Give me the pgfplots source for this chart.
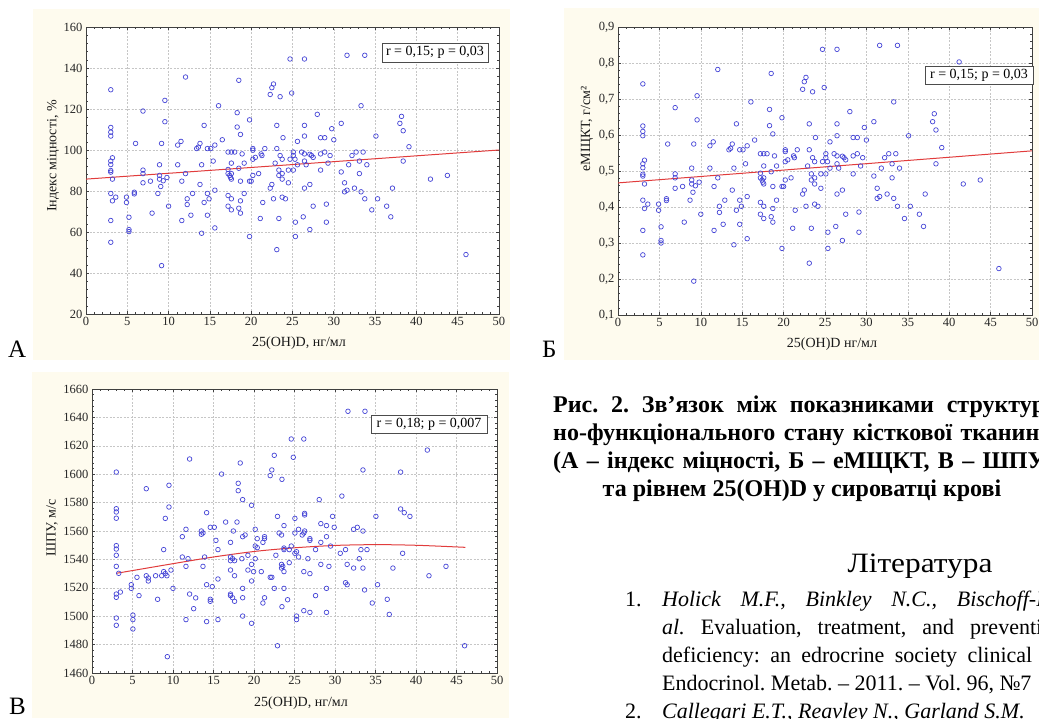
\documentclass[border=0pt]{standalone}
\usepackage{fontspec}
\setmainfont{Liberation Serif}
\usepackage{pgfplots}
\pgfplotsset{compat=1.18}

\definecolor{cream}{RGB}{254,251,238}
\definecolor{dotblue}{RGB}{70,70,215}
\definecolor{fitred}{RGB}{225,60,60}

\pgfplotsset{
  panel/.style={
    scale only axis, anchor=south west,
    xmin=0, xmax=50, xtick={0,5,...,50},
    minor tick num=4, tick align=inside,
    major tick length=3pt, minor tick length=2pt,
    grid=major,
    major grid style={gray!45, dash pattern=on 2pt off 1.5pt, line width=0.5pt},
    axis line style={draw=black!75, line width=0.8pt},
    every tick/.style={black!75, line width=0.6pt},
    axis background/.style={fill=white},
    ticklabel style={font=\fontsize{12.5}{12.5}\selectfont, text=black!85},
    /pgf/number format/assume math mode=true,
    /pgf/number format/1000 sep={},
  },
  dots/.style={only marks, mark=o, mark size=2.3pt,
    mark options={draw=dotblue, line width=0.7pt}},
  fit/.style={fitred, line width=1pt, no marks},
}

\begin{document}
\frenchspacing
\begin{tikzpicture}
\useasboundingbox (0,0) rectangle (1039pt,-718pt);
\clip (0,0) rectangle (1039pt,-718pt);

% panel backgrounds
\fill[cream] (33pt,-9pt) rectangle (510pt,-360pt);
\fill[cream] (564pt,-8pt) rectangle (1039pt,-360pt);
\fill[cream] (32pt,-372pt) rectangle (509pt,-718pt);

% ---------- А: індекс міцності ----------
\begin{axis}[panel, at={(86pt,-314pt)}, width=413pt, height=287pt,
  ymin=20, ymax=160, ytick={20,40,...,160}]
\addplot[dots] table {
x y
3 129.4
3 111
3 108.7
3 106.8
3.2 96.2
3 94.6
3 92.9
3 90
3 89.2
3.2 85.8
3 78.8
3.6 77
3.2 75.2
3 65.6
3 55
4.9 77
4.9 74.4
5.2 67.2
5.2 61.2
5.2 60.2
5.85 79.4
5.85 78.6
6 103.2
6.9 119
6.9 90.2
6.9 88.5
6.9 84
7.8 84.8
8 69.2
8.7 78.8
8.9 92.8
8.9 87.6
8.9 85.8
9.05 82.2
9.15 103.2
9.15 43.6
9.35 85
9.55 124.2
9.55 113.8
9.8 86.6
10 72.6
11.1 102.4
11.1 92.8
11.5 104.2
11.6 84.8
11.6 65.6
12.05 135.6
12.05 88.5
12.25 76.2
12.25 73.4
12.7 68.2
12.9 78.8
13.4 100.7
13.6 101.4
13.8 103.2
13.8 83.2
14 92.8
14 59.4
14.3 112
14.3 74.4
14.7 100.7
14.7 78.8
14.7 68.2
14.9 76.2
15.1 100.7
15.4 94.6
15.6 102.4
15.6 80.4
15.6 62
16.05 121.6
16.5 105
17.2 99
17.2 90.5
17.2 88.5
17.2 77.8
17.2 72.6
17.4 87.6
17.5 86.6
17.6 93.6
17.6 88.5
17.6 85.8
17.6 76.2
17.6 70.8
17.6 99
18 99
18.3 118.2
18.3 111.2
18.5 134
18.5 91.1
18.5 71.6
18.7 107.6
18.7 84.8
18.7 75.2
18.7 69.2
18.9 98.1
19.15 93.6
19.15 78.8
19.8 84.8
19.8 57.8
19.8 114.7
20 84.8
20.2 100.7
20.2 99.9
20.2 95.5
20.2 87.6
20.5 96.4
20.9 88.5
21.1 66.6
21.2 98.1
21.3 97.3
21.4 74.4
21.65 100.7
22.3 127.1
22.3 81.4
22.5 130.4
22.5 83.2
22.7 132.2
22.7 76.2
22.9 93.6
23.1 112
23.1 100.7
23.1 51.4
23.35 90.2
23.35 87.6
23.35 66.6
23.5 126
23.5 97.3
23.75 95.5
23.75 88.5
23.75 85.8
23.75 77
23.85 106
24.15 76.2
24.5 90.2
24.5 84
24.7 144.4
24.7 95.5
24.9 127.8
25.1 99
25.1 97.3
25.1 90.2
25.3 95.5
25.35 64.8
25.35 57.8
25.6 104.2
25.6 92.8
26.1 99
26.3 67.4
26.45 144.4
26.45 112
26.45 106.8
26.45 98.1
26.45 94.6
26.45 81.4
26.65 92.8
27.1 97.9
27.1 83.2
27.1 61.2
27.3 97.3
27.5 96.4
27.5 72.6
28 117.4
28.4 106
28.4 98.1
28.4 90.2
28.9 106
28.9 99
29.1 73.6
29.1 64.8
29.3 93.6
29.55 97.3
29.75 110.4
30 105
30.9 113
30.9 89.3
31.3 84
31.3 79.6
31.6 146.2
31.6 80.4
31.8 92.8
32.2 97.3
32.5 81.4
32.7 99
33.1 94.6
33.1 88.5
33.3 121.6
33.3 79.6
33.55 99
33.75 146.2
33.75 76.2
34 92.8
34.6 70.8
35.1 106.8
35.3 76.2
36.4 72.6
36.9 67.4
37.1 81.4
38 113
38.2 116.4
38.4 109.4
38.4 94.6
39.1 101.6
41.7 85.8
43.75 87.6
46 49
};
\addplot[fit] coordinates {(0,85.8) (50,100)};
\end{axis}

% ---------- Б: еМЩКТ ----------
\begin{axis}[panel, at={(618pt,-315pt)}, width=414pt, height=288pt,
  ymin=0.1, ymax=0.9, ytick={0.1,0.2,0.3,0.4,0.5,0.6,0.7,0.8,0.9},
  yticklabel style={/pgf/number format/fixed, /pgf/number format/precision=1,
    /pgf/number format/use comma}]
\addplot[dots] table {
x y
3 0.742
3 0.625
3 0.610
3 0.598
3.2 0.530
3 0.520
3 0.509
3 0.491
3 0.486
3.2 0.464
3 0.419
3.6 0.408
3.2 0.396
3 0.335
3 0.267
4.9 0.408
4.9 0.391
5.2 0.345
5.2 0.307
5.2 0.300
5.85 0.423
5.85 0.418
6 0.575
6.9 0.676
6.9 0.492
6.9 0.481
6.9 0.452
7.8 0.457
8 0.358
8.7 0.419
8.9 0.508
8.9 0.475
8.9 0.464
9.05 0.441
9.15 0.575
9.15 0.194
9.35 0.459
9.55 0.709
9.55 0.642
9.8 0.469
10 0.380
11.1 0.570
11.1 0.508
11.5 0.581
11.6 0.457
11.6 0.335
12.05 0.782
12.05 0.481
12.25 0.402
12.25 0.385
12.7 0.352
12.9 0.419
13.4 0.559
13.6 0.563
13.8 0.575
13.8 0.447
14 0.508
14 0.295
14.3 0.631
14.3 0.391
14.7 0.559
14.7 0.419
14.7 0.352
14.9 0.402
15.1 0.559
15.4 0.520
15.6 0.570
15.6 0.429
15.6 0.312
16.05 0.692
16.5 0.586
17.2 0.548
17.2 0.494
17.2 0.481
17.2 0.413
17.2 0.380
17.4 0.475
17.5 0.469
17.6 0.514
17.6 0.481
17.6 0.464
17.6 0.402
17.6 0.368
17.6 0.548
18 0.548
18.3 0.671
18.3 0.626
18.5 0.771
18.5 0.498
18.5 0.373
18.7 0.603
18.7 0.457
18.7 0.396
18.7 0.358
18.9 0.542
19.15 0.514
19.15 0.419
19.8 0.457
19.8 0.285
19.8 0.648
20 0.457
20.2 0.559
20.2 0.554
20.2 0.526
20.2 0.475
20.5 0.531
20.9 0.481
21.1 0.341
21.2 0.542
21.3 0.537
21.4 0.391
21.65 0.559
22.3 0.727
22.3 0.436
22.5 0.748
22.5 0.447
22.7 0.760
22.7 0.402
22.9 0.514
23.1 0.631
23.1 0.559
23.1 0.244
23.35 0.492
23.35 0.475
23.35 0.341
23.5 0.720
23.5 0.537
23.75 0.526
23.75 0.481
23.75 0.464
23.75 0.408
23.85 0.593
24.15 0.402
24.5 0.492
24.5 0.452
24.7 0.838
24.7 0.526
24.9 0.732
25.1 0.548
25.1 0.537
25.1 0.492
25.3 0.526
25.35 0.330
25.35 0.285
25.6 0.581
25.6 0.508
26.1 0.548
26.3 0.346
26.45 0.838
26.45 0.631
26.45 0.598
26.45 0.542
26.45 0.520
26.45 0.436
26.65 0.508
27.1 0.541
27.1 0.447
27.1 0.307
27.3 0.537
27.5 0.531
27.5 0.380
28 0.665
28.4 0.593
28.4 0.542
28.4 0.492
28.9 0.593
28.9 0.548
29.1 0.386
29.1 0.330
29.3 0.514
29.55 0.537
29.75 0.621
30 0.586
30.9 0.637
30.9 0.486
31.3 0.452
31.3 0.424
31.6 0.849
31.6 0.429
31.8 0.508
32.2 0.537
32.5 0.436
32.7 0.548
33.1 0.520
33.1 0.481
33.3 0.692
33.3 0.424
33.55 0.548
33.75 0.849
33.75 0.402
34 0.508
34.6 0.368
35.1 0.598
35.3 0.402
36.4 0.380
36.9 0.346
37.1 0.436
38 0.637
38.2 0.659
38.4 0.614
38.4 0.520
39.1 0.565
41.2 0.803
41.7 0.464
43.75 0.475
46 0.229
};
\addplot[fit] coordinates {(0,0.467) (50,0.556)};
\end{axis}

% ---------- В: ШПУ ----------
\begin{axis}[panel, at={(92pt,-673pt)}, width=405pt, height=284pt,
  ymin=1460, ymax=1660, ytick={1460,1480,...,1660}]
\addplot[dots] table {
x y
3 1601.5
3 1575.7
3 1573.4
3 1569
3 1549.7
3 1547.3
3 1542.9
3 1535.1
3.3 1530.2
3 1515.6
3 1513.3
3.5 1517
3 1498.7
3 1493.6
4.85 1522.2
4.85 1519.6
5.05 1500.8
5.05 1497.6
5.05 1491
5.55 1527.4
5.8 1514.5
6.7 1589.8
6.7 1528.5
6.95 1524.8
6.95 1526.9
7.85 1528.5
8.1 1511.9
8.6 1528.5
8.85 1546.9
8.85 1531.4
9.05 1530
9.05 1568.9
9.25 1528.5
9.3 1471.5
9.5 1592.2
9.5 1576.9
9.75 1532.5
10 1519.6
11.15 1556
11.15 1541.7
11.6 1561.2
11.6 1535.1
11.6 1497.6
11.85 1540.5
12.05 1610.7
12.05 1515.6
12.55 1505.3
12.8 1512.9
13.5 1560
13.5 1557.7
13.7 1535.1
13.7 1558.6
13.9 1541.7
14.15 1522.2
14.15 1496.2
14.15 1572.9
14.6 1562.6
14.6 1511.9
14.6 1510.5
14.85 1520.8
15.1 1562.6
15.3 1553.4
15.55 1546.9
15.55 1526.2
15.55 1497.6
16 1600.1
16.5 1566.3
17.1 1552
17.1 1541.7
17.1 1539.1
17.1 1532.5
17.1 1515.6
17.1 1514.5
17.35 1540.5
17.35 1513
17.45 1560
17.6 1539.1
17.6 1528.5
17.6 1510.5
17.9 1566.3
18.05 1593.6
18.05 1588.4
18.3 1607.9
18.5 1540.5
18.6 1582.1
18.6 1556
18.6 1519.6
18.6 1513
18.6 1500.1
18.9 1557.2
19.25 1542.9
19.25 1532.5
19.7 1578.1
19.7 1536.5
19.7 1524.8
19.7 1495
19.95 1531.4
20.15 1561.2
20.15 1549.4
20.15 1540.5
20.4 1554.6
20.4 1548.3
20.9 1531.4
21.1 1552
21.1 1509.3
21.3 1556
21.3 1554.6
21.3 1513
22 1599
22 1527.4
22.2 1603
22.2 1527.4
22.5 1613.3
22.5 1519.6
22.7 1542.9
22.9 1570.3
22.9 1479.2
23.1 1558.6
23.4 1557.2
23.4 1536.5
23.4 1533.9
23.45 1596.4
23.45 1506.7
23.55 1535.1
23.7 1563.8
23.7 1548
23.7 1546.9
23.7 1531.4
23.7 1519.6
24.15 1511.6
24.35 1537.7
24.35 1546.9
24.6 1549.4
24.6 1624.8
24.85 1611.9
25.05 1568.9
25.05 1558.6
25.05 1544.3
25.25 1545.4
25.25 1500.1
25.25 1497.6
25.5 1561.2
25.5 1541.7
25.95 1557.2
26.15 1558.6
26.15 1531.4
26.15 1503.9
26.15 1624.8
26.25 1572.4
26.25 1571.3
26.25 1560
26.65 1540.5
26.9 1554.6
26.9 1553.4
26.9 1530
26.9 1502.7
27.6 1546.9
27.6 1514.5
28.05 1582.1
28.25 1565.2
28.25 1552
28.25 1536.5
28.95 1563.8
28.95 1556
28.95 1519.6
28.95 1502.7
29.25 1535.1
29.45 1549.4
29.7 1570.3
29.9 1562.6
30.65 1544.3
30.85 1584.6
31.3 1546.9
31.3 1523.6
31.5 1522.2
31.5 1536.5
31.6 1644.3
32.3 1561.2
32.3 1533.9
32.75 1562.6
33 1540.5
33.2 1546.9
33.45 1560
33.45 1603
33.45 1533.9
33.65 1518.5
33.7 1644.3
33.95 1546.9
34.6 1509.3
35.05 1570.3
35.25 1522.2
36.45 1511.9
36.7 1501.3
37.15 1533.9
38.1 1601.5
38.1 1575.5
38.35 1544.3
38.55 1572.9
39.25 1570.3
41.4 1617
41.6 1528.5
43.7 1535.1
46 1479.2
};
\addplot[fit, smooth] coordinates {(3,1530.2) (10,1537) (15,1541.7) (20.2,1545.7)
  (25.3,1548.3) (30.3,1549.9) (35.3,1550.4) (40.3,1549.9) (46.1,1548.5)};
\end{axis}

% axis titles
\begin{scope}[every node/.style={font=\fontsize{14}{14}\selectfont, text=black!90}]
\node at (299pt,-343pt) {25(OH)D, нг/мл};
\node[rotate=90] at (53pt,-156pt) {Індекс міцності, \%};
\node at (832pt,-344pt) {25(OH)D нг/мл};
\node[rotate=90] at (587pt,-129pt) {еМЩКТ, г/см²};
\node at (301pt,-703pt) {25(OH)D, нг/мл};
\node[rotate=90] at (52pt,-528pt) {ШПУ, м/с};
\end{scope}

% correlation boxes
\begin{scope}[every node/.style={draw=black!70, line width=0.8pt, fill=white,
    inner sep=0pt, font=\fontsize{14}{14}\selectfont}]
\node[minimum width=106pt, minimum height=19pt] at (435pt,-52.5pt) {r = 0,15; p = 0,03};
\node[minimum width=108pt, minimum height=18pt] at (979pt,-75pt) {r = 0,15; p = 0,03};
\node[minimum width=116pt, minimum height=18pt] at (429pt,-424pt) {r = 0,18; p = 0,007};
\end{scope}

% panel letters
\begin{scope}[every node/.style={anchor=base west, inner sep=0pt, font=\fontsize{25}{25}\selectfont}]
\node at (8pt,-357pt) {А};
\node at (542pt,-357pt) {Б};
\node at (9pt,-714pt) {В};
\end{scope}

% caption (justified lines running past the right edge)
\begin{scope}[every node/.style={anchor=base west, inner sep=0pt, font=\fontsize{24}{28}\selectfont\bfseries}]
\node at (553pt,-412pt) {\makebox[500pt][s]{Рис. 2. Зв’язок між показниками структур-}};
\node at (553pt,-440pt) {\makebox[500pt][s]{но-функціонального стану кісткової тканини}};
\node at (553pt,-468pt) {\makebox[500pt][s]{(А – індекс міцності, Б – еМЩКТ, В – ШПУ)}};
\node[anchor=base] at (802pt,-496pt) {та рівнем 25(OH)D у сироватці крові};
\end{scope}

\node[anchor=base, inner sep=0pt, xscale=1.12, font=\fontsize{28}{28}\selectfont] at (920pt,-572pt) {Література};

% references
\begin{scope}[every node/.style={anchor=base west, inner sep=0pt, font=\fontsize{22}{26}\selectfont}]
\node at (625pt,-606pt) {1.};
\node at (662pt,-606pt) {\makebox[440pt][s]{\itshape Holick M.F., Binkley N.C., Bischoff-Ferrari}};
\node at (662pt,-634pt) {\makebox[402pt][s]{\textit{al.} Evaluation, treatment, and prevention}};
\node at (662pt,-662pt) {\makebox[370pt][s]{deficiency: an edrocrine society clinical}};
\node at (662pt,-690pt) {Endocrinol. Metab. – 2011. – Vol. 96, №7};
\node at (625pt,-718pt) {2.};
\node at (662pt,-718pt) {\itshape Callegari E.T., Reavley N., Garland S.M.};
\end{scope}
\end{tikzpicture}
\end{document}
